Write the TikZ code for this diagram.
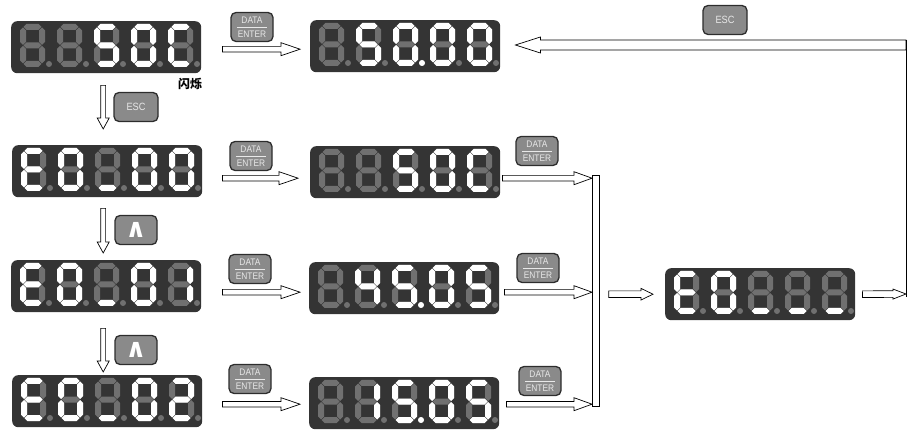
\documentclass[tikz,border=0pt]{standalone}
\usepackage{fontspec}
\setmainfont{Liberation Sans}
\newfontfamily\keyfont{Liberation Sans}[FakeStretch=0.88]
\newfontfamily\cjk{Noto Sans CJK SC}
\newfontfamily\symfont{DejaVu Sans}
\usetikzlibrary{calc}

\definecolor{panel}{RGB}{52,52,52}
\definecolor{segdim}{RGB}{112,112,112}
\definecolor{keygrey}{RGB}{138,138,138}
\definecolor{keyedge}{RGB}{45,45,45}
\definecolor{keylabel}{RGB}{232,232,232}

\tikzset{
  display/.style={fill=panel, rounded corners=6pt, minimum width=190pt, minimum height=52pt, inner sep=0pt, anchor=north west},
  segoff/.style={fill=segdim},
  segon/.style={fill=white},
  keybtn/.style={draw=keyedge, fill=keygrey, line width=1.3pt, rounded corners=5pt, minimum width=42pt, minimum height=29pt, inner sep=0pt, text=keylabel, font=\keyfont\fontsize{9.5}{8}\selectfont, align=center},
  hollow/.style={draw=black, fill=white, line width=0.7pt, line join=miter},
  bus/.style={draw, fill=white, line width=0.7pt, minimum width=7pt, minimum height=231pt, inner sep=0pt, anchor=north west}
}

% seven segments of one digit, 25 x 43, plus its point
\newcommand{\segpatha}{(3.5,3) -- (6.5,0) -- (18.5,0) -- (21.5,3) -- (18.5,6) -- (6.5,6) -- cycle}
\newcommand{\segpathg}{(3.5,21.5) -- (6.5,18.5) -- (18.5,18.5) -- (21.5,21.5) -- (18.5,24.5) -- (6.5,24.5) -- cycle}
\newcommand{\segpathd}{(3.5,40) -- (6.5,37) -- (18.5,37) -- (21.5,40) -- (18.5,43) -- (6.5,43) -- cycle}
\newcommand{\segpathf}{(3,3.5) -- (6,6.5) -- (6,18) -- (3,21) -- (0,18) -- (0,6.5) -- cycle}
\newcommand{\segpathe}{(3,22) -- (6,25) -- (6,36.5) -- (3,39.5) -- (0,36.5) -- (0,25) -- cycle}
\newcommand{\segpathb}{(22,3.5) -- (25,6.5) -- (25,18) -- (22,21) -- (19,18) -- (19,6.5) -- cycle}
\newcommand{\segpathc}{(22,22) -- (25,25) -- (25,36.5) -- (22,39.5) -- (19,36.5) -- (19,25) -- cycle}
\newcommand{\segpathp}{(29,40) circle (3pt)}
\newcommand{\segpathn}{}

% name, top left corner, lit segments of the five digits
\newcommand{\segdisplay}[3]{%
  \node[display] (#1) at (#2) {};
  \foreach \lit [count=\i from 0] in {#3} {
    \begin{scope}[shift={($(#1.north west)+(9+37*\i,3)$)}]
      \foreach \s in {a,b,c,d,e,f,g,p} \fill[segoff] \csname segpath\s\endcsname;
      \foreach \s in \lit \fill[segon] \csname segpath\s\endcsname;
    \end{scope}
  }}

% tail, tip, shaft half width, head half width, head length
\newcommand{\blockarrow}[5]{%
  \coordinate (baH) at ($(#2)!#5pt!(#1)$);
  \draw[hollow] ($(#1)!#3pt!90:(#2)$) -- ($(baH)!#3pt!90:(#2)$) -- ($(baH)!#4pt!90:(#2)$) -- (#2)
    -- ($(baH)!#4pt!-90:(#2)$) -- ($(baH)!#3pt!-90:(#2)$) -- ($(#1)!#3pt!-90:(#2)$) -- cycle;}

\begin{document}
\begin{tikzpicture}[x=1pt, y=-1pt]
  \useasboundingbox (0,0) rectangle (908,430);

  % displays
  \segdisplay{d1}{11,21}{{n},{n},{a,f,g,c,d},{a,b,c,d,e,f},{a,d,e,f}}
  \segdisplay{d2}{310,20}{{n},{a,f,g,c,d},{a,b,c,d,e,f,p},{a,b,c,d,e,f},{a,b,c,d,e,f}}
  \segdisplay{d3}{12,145}{{a,d,e,f,g},{a,b,c,d,e,f},{d},{a,b,c,d,e,f},{a,b,c,d,e,f}}
  \segdisplay{d4}{310,146}{{n},{n},{a,f,g,c,d},{a,b,c,d,e,f},{a,d,e,f}}
  \segdisplay{d5}{11,260}{{a,d,e,f,g},{a,b,c,d,e,f},{d},{a,b,c,d,e,f},{b,c}}
  \segdisplay{d6}{309,262}{{n},{f,g,b,c},{a,f,g,c,d,p},{a,b,c,d,e,f},{a,f,g,c,d}}
  \segdisplay{d7}{12,375}{{a,d,e,f,g},{a,b,c,d,e,f},{d},{a,b,c,d,e,f},{a,b,g,e,d}}
  \segdisplay{d8}{309,377}{{n},{b,c},{a,f,g,c,d,p},{a,b,c,d,e,f},{a,f,g,c,d}}
  \segdisplay{d9}{665,268}{{a,d,e,f,g},{a,b,c,d,e,f},{d},{d},{d}}

  \node[font=\cjk\bfseries\fontsize{12}{12}\selectfont] (blink) at (190,84) {闪烁};

  % keys
  \node[keybtn] (kd1) at (252,27) {DATA\\[-4pt]\rule{30pt}{0.6pt}\\[2pt]ENTER};
  \node[keybtn] (kd2) at (251,156) {DATA\\[-4pt]\rule{30pt}{0.6pt}\\[2pt]ENTER};
  \node[keybtn] (kd3) at (537,151) {DATA\\[-4pt]\rule{30pt}{0.6pt}\\[2pt]ENTER};
  \node[keybtn] (kd4) at (250,269) {DATA\\[-4pt]\rule{30pt}{0.6pt}\\[2pt]ENTER};
  \node[keybtn] (kd5) at (538,268) {DATA\\[-4pt]\rule{30pt}{0.6pt}\\[2pt]ENTER};
  \node[keybtn] (kd6) at (250,379) {DATA\\[-4pt]\rule{30pt}{0.6pt}\\[2pt]ENTER};
  \node[keybtn] (kd7) at (540,381) {DATA\\[-4pt]\rule{30pt}{0.6pt}\\[2pt]ENTER};
  \node[keybtn, minimum width=44pt, font=\keyfont\fontsize{10.5}{10}\selectfont] (ke1) at (136,107) {ESC};
  \node[keybtn, minimum width=44pt, font=\keyfont\fontsize{10.5}{10}\selectfont] (ke2) at (725,20) {ESC};
  \node[keybtn, font=\symfont\bfseries\fontsize{26}{26}\selectfont, text=white] (ku1) at (136,230) {∧};
  \node[keybtn, font=\symfont\bfseries\fontsize{26}{26}\selectfont, text=white] (ku2) at (136,350) {∧};

  \node[bus] (bus) at (592,175) {};

  % arrow ends
  \coordinate (a1) at ($(d1.east)+(21,2)$);
  \coordinate (b1) at ($(a1 -| d2.west)+(-10,0)$);
  \coordinate (a2) at ($(d3.east)+(20,7)$);
  \coordinate (b2) at ($(a2 -| d4.west)+(-12,0)$);
  \coordinate (c2) at ($(a2 -| d4.east)+(2,0)$);
  \coordinate (e2) at (a2 -| bus.west);
  \coordinate (a3) at ($(d5.east)+(21,6)$);
  \coordinate (b3) at ($(a3 -| d6.west)+(-9,0)$);
  \coordinate (c3) at ($(a3 -| d6.east)+(5,0)$);
  \coordinate (e3) at (a3 -| bus.west);
  \coordinate (a4) at ($(d7.east)+(20,3)$);
  \coordinate (b4) at ($(a4 -| d8.west)+(-9,0)$);
  \coordinate (c4) at ($(a4 -| d8.east)+(7,0)$);
  \coordinate (e4) at (a4 -| bus.west);
  \coordinate (g1) at ($(bus.east |- d9.west)+(9,0)$);
  \coordinate (g2) at ($(d9.west)+(-12,0)$);
  \coordinate (h1) at ($(d9.east)+(7,0)$);
  \coordinate (cornerB) at (906,294);
  \coordinate (cornerT) at (906,45);
  \coordinate (escTip) at ($(cornerT -| d2.east)+(15,0)$);
  \coordinate (v1a) at ($(d1.south)+(-3,12)$);
  \coordinate (v1b) at ($(v1a |- d3.north)+(0,-16)$);
  \coordinate (v2a) at ($(d3.south)+(-4,11)$);
  \coordinate (v2b) at ($(v2a |- d5.north)+(0,-7)$);
  \coordinate (v3a) at ($(d5.south)+(-3,16)$);
  \coordinate (v3b) at ($(v3a |- d7.north)+(0,-3)$);

  % arrows
  \blockarrow{a1}{b1}{2.8}{6.5}{19}
  \blockarrow{a2}{b2}{2.8}{6.5}{19}
  \blockarrow{c2}{e2}{2.8}{6.5}{18}
  \blockarrow{a3}{b3}{2.8}{6.5}{19}
  \blockarrow{c3}{e3}{2.8}{6.5}{18}
  \blockarrow{a4}{b4}{2.8}{6.5}{19}
  \blockarrow{c4}{e4}{2.8}{6.5}{18}
  \blockarrow{g1}{g2}{3.3}{5.8}{12}
  \blockarrow{h1}{cornerB}{3.3}{5}{13}
  \blockarrow{v1a}{v1b}{2.4}{6}{11}
  \blockarrow{v2a}{v2b}{2.4}{6}{11}
  \blockarrow{v3a}{v3b}{2.4}{6}{11}
  \blockarrow{cornerT}{escTip}{5}{8}{25}
  \draw[line width=0.7pt] ([yshift=5pt]cornerT) -- ([yshift=-3pt]cornerB);
\end{tikzpicture}
\end{document}
